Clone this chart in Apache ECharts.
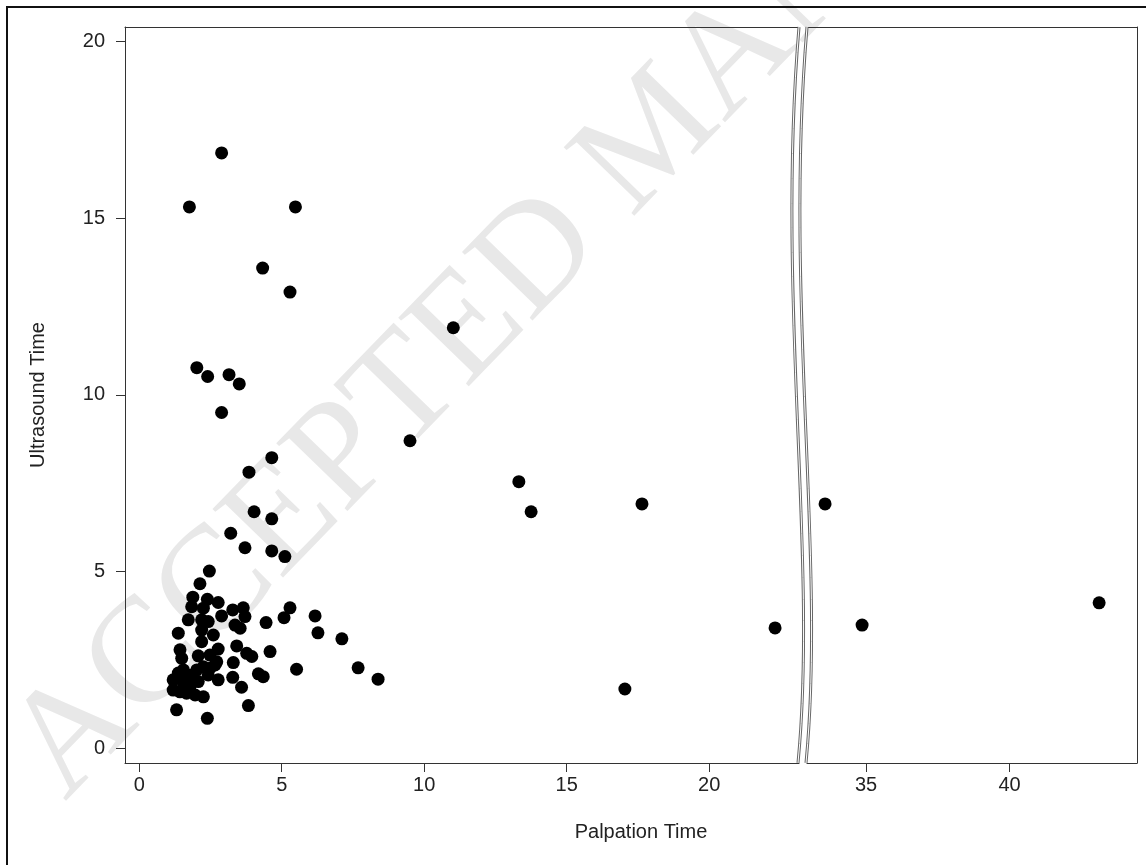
<!DOCTYPE html>
<html>
<head>
<meta charset="utf-8">
<script src="https://cdn.jsdelivr.net/npm/echarts@6/dist/echarts.min.js"></script>
<style>
  html, body { margin: 0; padding: 0; background: #fff; }
  #chart { width: 1146px; height: 865px; }
</style>
</head>
<body>
<div id="chart"></div>
<script>
// palpation time (x) / ultrasound time (y)
var palpation = [
  2.89, 1.76, 5.48, 4.33, 5.29, 11.02, 2.02, 2.40, 3.15, 3.51,
  2.89, 9.50, 4.65, 3.85, 13.32, 4.03, 13.75, 4.65, 17.64, 3.21,
  3.71, 4.65, 5.11, 2.46, 2.13, 22.31, 17.04, 8.38, 7.68, 7.11,
  6.27, 6.17, 5.29, 5.08, 4.45, 5.52, 4.59, 4.35, 4.18, 3.83,
  3.59, 2.39, 1.31, 1.88, 2.39, 2.77, 1.84, 2.25, 3.28, 3.65,
  3.71, 2.89, 1.72, 2.19, 2.42, 3.36, 3.54, 1.37, 2.19, 2.60,
  2.19, 1.43, 1.49, 2.77, 2.07, 2.48, 2.72, 3.42, 3.77, 3.95,
  3.30, 3.28, 1.19, 1.37, 1.55, 1.66, 1.84, 2.02, 2.25, 2.48,
  2.66, 2.77, 1.19, 1.43, 1.66, 1.96, 2.25, 1.78, 2.07, 2.42,
  1.55, 33.57, 34.86, 43.12
];
var ultrasound = [
  16.85, 15.32, 15.32, 13.59, 12.91, 11.90, 10.77, 10.52, 10.57, 10.31,
  9.50, 8.70, 8.22, 7.81, 7.54, 6.69, 6.69, 6.49, 6.91, 6.08,
  5.67, 5.58, 5.42, 5.01, 4.65, 3.40, 1.67, 1.95, 2.27, 3.09,
  3.26, 3.74, 3.97, 3.69, 3.55, 2.23, 2.73, 2.02, 2.10, 1.20,
  1.72, 0.84, 1.08, 4.27, 4.21, 4.12, 4.00, 3.96, 3.91, 3.97,
  3.72, 3.74, 3.63, 3.63, 3.58, 3.48, 3.39, 3.25, 3.34, 3.20,
  3.01, 2.78, 2.54, 2.80, 2.61, 2.63, 2.44, 2.89, 2.68, 2.59,
  2.42, 2.00, 1.93, 2.12, 2.21, 2.02, 2.07, 2.21, 2.30, 2.26,
  2.35, 1.93, 1.64, 1.59, 1.55, 1.50, 1.45, 1.74, 1.88, 2.07,
  1.83, 6.91, 3.48, 4.11
];
var yTicks = [0, 5, 10, 15, 20];
var xTicksLeft = [0, 5, 10, 15, 20];
var xTicksRight = [35, 40];
var breakAt = 23; // values above this go to the right panel

var leftPts = [], rightPts = [];
for (var i = 0; i < palpation.length; i++) {
  (palpation[i] > breakAt ? rightPts : leftPts).push([palpation[i], ultrasound[i]]);
}

var font = "'Liberation Sans', Arial, sans-serif";
var fs = 20;
var axisColor = '#333';
var G1 = { left: 125, top: 27, width: 674, height: 736 };
var G2 = { left: 807, top: 27, width: 330, height: 736 };
var yMin = -0.425, yMax = 20.416;

var chart = echarts.init(document.getElementById('chart'));

function lineOnly(extra) {
  return Object.assign({
    type: 'value',
    axisLine: { show: true, onZero: false, lineStyle: { color: axisColor, width: 1 } },
    axisTick: { show: false },
    axisLabel: { show: false },
    splitLine: { show: false }
  }, extra);
}
function tickAxis(extra, ticks, margin) {
  return Object.assign({
    type: 'value',
    axisLine: { show: true, onZero: false, lineStyle: { color: axisColor, width: 1 } },
    axisTick: { show: true, length: 9, customValues: ticks, lineStyle: { color: axisColor } },
    axisLabel: { customValues: ticks, color: '#222', fontFamily: font, fontSize: fs, margin: margin },
    splitLine: { show: false }
  }, extra);
}

// wavy break lines
function wave(x, top, h) {
  return {
    x1: x, y1: top, x2: x - 1, y2: top + h,
    cpx1: x - 23, cpy1: top + h * 0.37,
    cpx2: x + 19, cpy2: top + h * 0.72
  };
}
var breakLines = [];
[G1.left + G1.width, G2.left].forEach(function (bx) {
  breakLines.push({ type: 'bezierCurve', shape: wave(bx, G1.top, G1.height), style: { stroke: '#666', lineWidth: 3, fill: null }, z: 5 });
  breakLines.push({ type: 'bezierCurve', shape: wave(bx, G1.top, G1.height), style: { stroke: '#fff', lineWidth: 1, fill: null }, z: 6 });
});

chart.setOption({
  animation: false,
  backgroundColor: '#fff',
  grid: [
    Object.assign({ containLabel: false }, G1),
    Object.assign({ containLabel: false }, G2)
  ],
  xAxis: [
    tickAxis({ gridIndex: 0, position: 'bottom', min: -0.5, max: 23.15 }, xTicksLeft, 12),
    lineOnly({ gridIndex: 0, position: 'top', min: -0.5, max: 23.15 }),
    tickAxis({ gridIndex: 1, position: 'bottom', min: 32.94, max: 44.44 }, xTicksRight, 12),
    lineOnly({ gridIndex: 1, position: 'top', min: 32.94, max: 44.44 })
  ],
  yAxis: [
    Object.assign(tickAxis({ gridIndex: 0, position: 'left', min: yMin, max: yMax }, yTicks, 20), {
      name: 'Ultrasound Time', nameLocation: 'middle', nameGap: 77,
      nameTextStyle: { color: '#222', fontFamily: font, fontSize: fs }
    }),
    lineOnly({ gridIndex: 1, position: 'right', min: yMin, max: yMax })
  ],
  graphic: [
    {
      type: 'text', x: -17, y: 722, rotation: 0.80, z: -1, silent: true,
      style: { text: 'ACCEPTED MANUSCRIPT', fill: '#e8e8e8', font: '150px "Liberation Serif", serif', textBaseline: 'alphabetic' }
    },
    {
      type: 'text', x: 641, y: 832, z: 5,
      style: { text: 'Palpation Time', fill: '#222', font: fs + 'px ' + font, textAlign: 'center', textVerticalAlign: 'middle' }
    },
    {
      type: 'rect', z: 5, silent: true,
      shape: { x: 7, y: 7, width: 1160, height: 880 },
      style: { fill: null, stroke: '#111', lineWidth: 2 }
    }
  ].concat(breakLines),
  series: [
    {
      type: 'scatter', xAxisIndex: 0, yAxisIndex: 0, data: leftPts,
      symbol: 'circle', symbolSize: 13, itemStyle: { color: '#000', opacity: 1 }
    },
    {
      type: 'scatter', xAxisIndex: 2, yAxisIndex: 1, data: rightPts,
      symbol: 'circle', symbolSize: 13, itemStyle: { color: '#000', opacity: 1 }
    }
  ]
});
</script>
</body>
</html>
